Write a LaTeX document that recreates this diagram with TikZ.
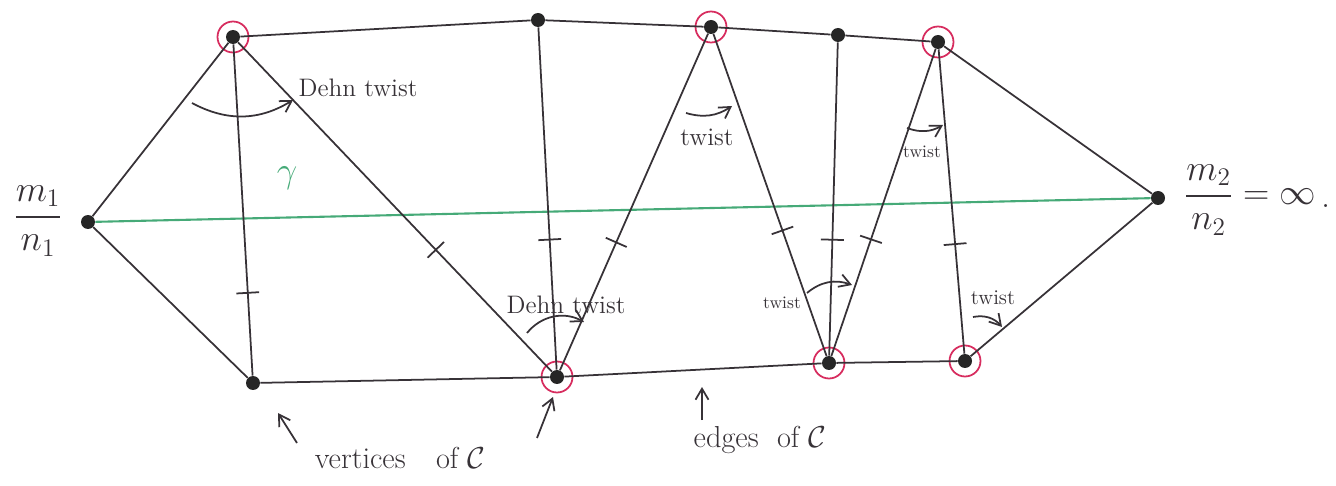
\documentclass[tikz,border=0pt]{standalone}
\usepackage{amsmath}
\usetikzlibrary{arrows.meta}

\definecolor{inkgray}{RGB}{55,50,55}
\definecolor{ringred}{RGB}{215,45,95}
\definecolor{gammagreen}{RGB}{70,170,120}

\begin{document}
\begin{tikzpicture}[
    x=0.02cm, y=-0.02cm,
    >={Straight Barb[length=2.2mm,width=2.6mm]},
    vert/.style={circle, fill=black!85, inner sep=0pt, minimum size=0.28cm},
    ring/.style={circle, draw=ringred, line width=1pt, inner sep=0pt, minimum size=0.62cm},
    edge/.style={draw=inkgray, line width=1pt},
    edgetick/.style={draw=inkgray, line width=1pt, sloped, inner sep=0pt, minimum width=0pt, minimum height=13pt},
    twistarrow/.style={draw=inkgray, line width=1pt, ->},
    every node/.style={text=inkgray}
]

\useasboundingbox (0,0) rectangle (1336,486);

\node[vert] (l) at (88,222) {};
\node[vert] (r) at (1158,198) {};

\node[vert] (t1) at (233,37) {};
\node[vert] (t2) at (538,20) {};
\node[vert] (t3) at (711,27) {};
\node[vert] (t4) at (838,35) {};
\node[vert] (t5) at (938,42) {};

\node[vert] (b1) at (253,383) {};
\node[vert] (b2) at (557,377) {};
\node[vert] (b3) at (829,363) {};
\node[vert] (b4) at (965,361) {};

\node[ring] (rt1) at (t1) {};
\node[ring] (rt3) at (t3) {};
\node[ring] (rt5) at (t5) {};
\node[ring] (rb2) at (b2) {};
\node[ring] (rb3) at (b3) {};
\node[ring] (rb4) at (b4) {};

\draw[gammagreen, line width=1.2pt] (l) -- (r);
\node[text=gammagreen, font=\huge] (gam) at (287,178) {$\gamma$};

\draw[edge] (t1) -- (t2) -- (t3) -- (t4) -- (t5);
\draw[edge] (b1) -- (b2) -- (b3) -- (b4);
\draw[edge] (l) -- (t1);
\draw[edge] (l) -- (b1);
\draw[edge] (t5) -- (r);
\draw[edge] (b4) -- (r);

\draw[edge] (t1) -- (b1) node[edgetick, pos=0.75] {};
\draw[edge] (t1) -- (b2) node[edgetick, pos=0.63] {};
\draw[edge] (t2) -- (b2) node[edgetick, pos=0.62] {};
\draw[edge] (t3) -- (b2) node[edgetick, pos=0.62] {};
\draw[edge] (t3) -- (b3) node[edgetick, pos=0.61] {};
\draw[edge] (t4) -- (b3) node[edgetick, pos=0.63] {};
\draw[edge] (t5) -- (b3) node[edgetick, pos=0.62] {};
\draw[edge] (t5) -- (b4) node[edgetick, pos=0.64] {};

\coordinate (a1s) at (192,103);
\coordinate (a1e) at (293,100);
\coordinate (a2s) at (686,113);
\coordinate (a2e) at (732,106);
\coordinate (a3s) at (527,333);
\coordinate (a3e) at (584,322);
\coordinate (a4s) at (807,293);
\coordinate (a4e) at (852,285);
\coordinate (a5s) at (907,128);
\coordinate (a5e) at (943,125);
\coordinate (a6s) at (973,317);
\coordinate (a6e) at (1002,327);

\draw[twistarrow] (a1s) to[bend right=30] (a1e);
\draw[twistarrow] (a2s) to[bend right=25] (a2e);
\draw[twistarrow] (a3s) to[bend left=40] (a3e);
\draw[twistarrow] (a4s) to[bend left=30] (a4e);
\draw[twistarrow] (a5s) to[bend right=25] (a5e);
\draw[twistarrow] (a6s) to[bend left=30] (a6e);

\node[font=\Large] (dehn1) at (358,88) {Dehn twist};
\node[font=\Large] (tw1) at (707,137) {twist};
\node[font=\Large] (dehn2) at (566,305) {Dehn twist};
\node[font=\normalsize] (tw2) at (782,303) {twist};
\node[font=\normalsize] (tw3) at (922,152) {twist};
\node[font=\large] (tw4) at (993,298) {twist};

\node[font=\huge] (frac1) at (38,221) {$\displaystyle\frac{m_1}{n_1}$};
\node[font=\huge, anchor=west] (frac2) at (1178,200) {$\displaystyle\frac{m_2}{n_2}=\infty$};
\node[font=\huge] (stop) at (1326,206) {.};

\node[font=\LARGE] (verts) at (400,458) {vertices\quad of $\mathcal{C}$};
\node[font=\LARGE] (edges) at (760,440) {edges\ \ of $\mathcal{C}$};

\coordinate (p1s) at (297,443);
\coordinate (p1e) at (278,413);
\coordinate (p2s) at (537,438);
\coordinate (p2e) at (553,397);
\coordinate (p3s) at (702,420);
\coordinate (p3e) at (702,387);

\draw[twistarrow] (p1s) -- (p1e);
\draw[twistarrow] (p2s) -- (p2e);
\draw[twistarrow] (p3s) -- (p3e);

\end{tikzpicture}
\end{document}
